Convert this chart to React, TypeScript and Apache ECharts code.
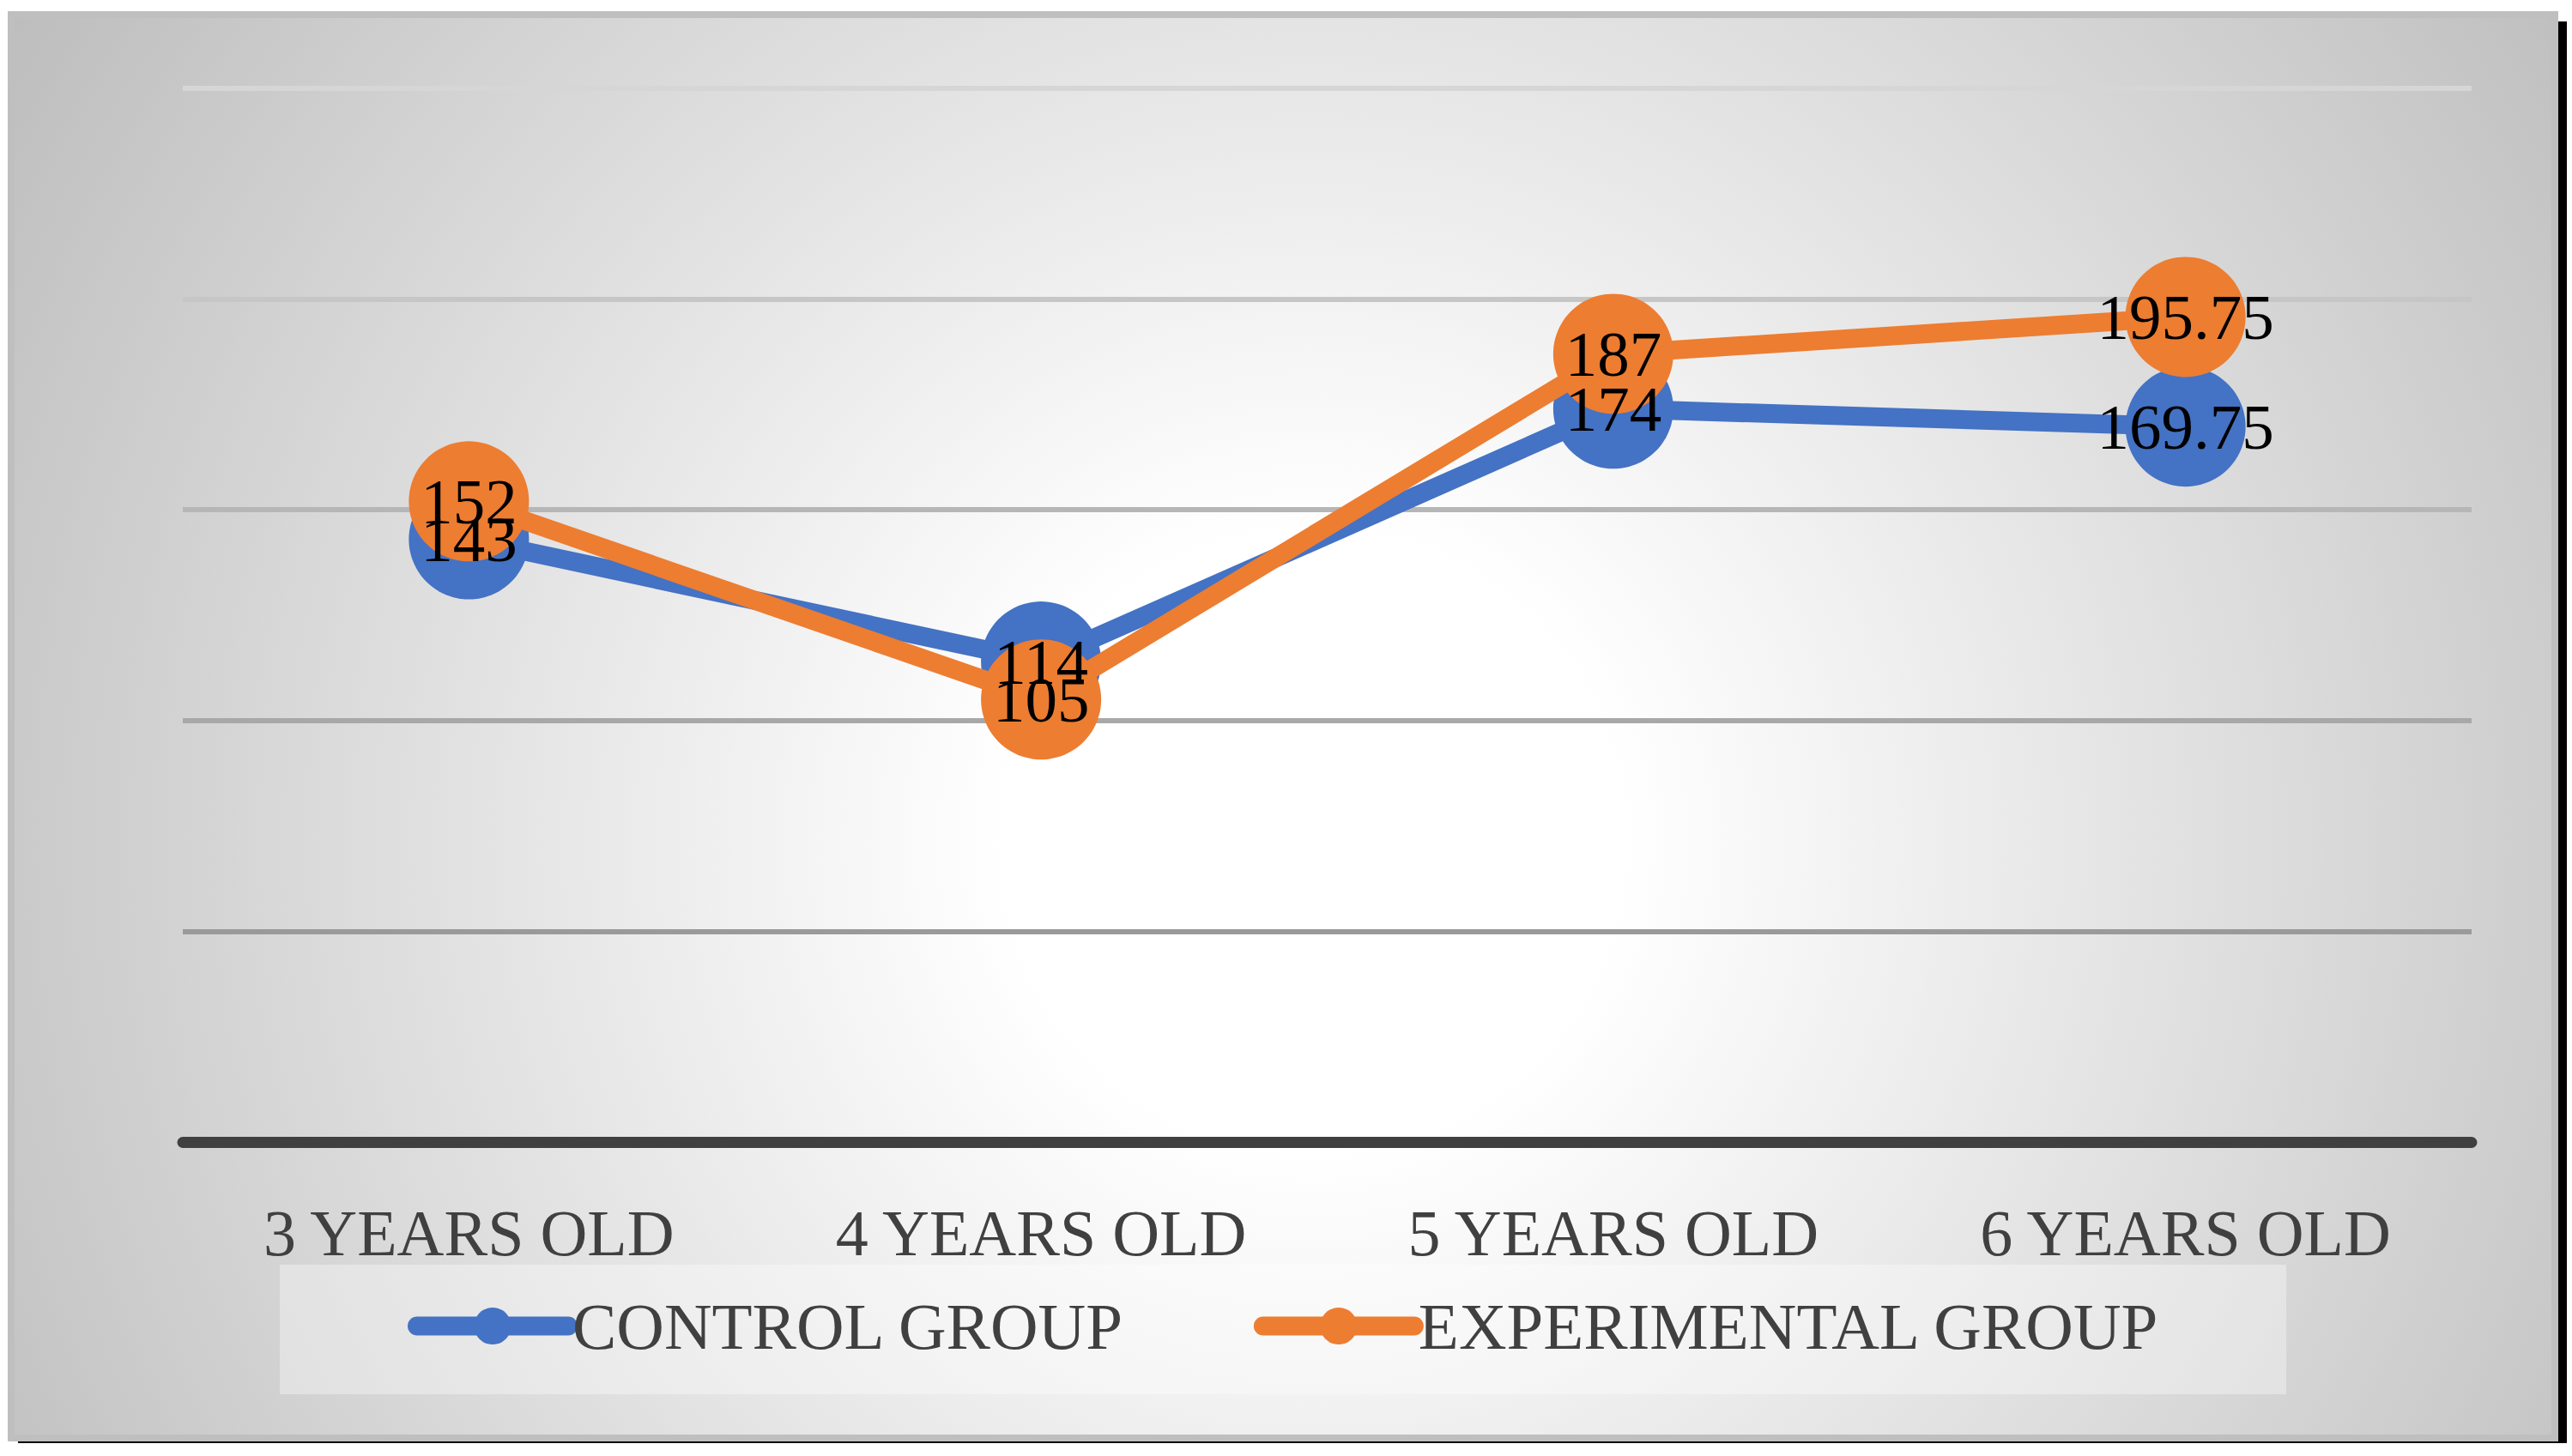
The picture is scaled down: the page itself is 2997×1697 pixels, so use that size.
import React, { useEffect, useRef } from "react";
import * as echarts from "echarts";

const categories = ["3 YEARS OLD", "4 YEARS OLD", "5 YEARS OLD", "6 YEARS OLD"];
const controlGroup = [143, 114, 174, 169.75];
const experimentalGroup = [152, 105, 187, 195.75];
const seriesNames = ["CONTROL GROUP", "EXPERIMENTAL GROUP"];

const W = 2997;
const H = 1697;
const SERIF = "'Liberation Serif', 'DejaVu Serif', serif";

export default function App() {
  const ref = useRef<HTMLDivElement>(null);
  useEffect(() => {
    if (!ref.current) return;
    const chart = echarts.init(ref.current, undefined, { renderer: "svg" });
    const labelCfg = {
      show: true,
      position: "inside",
      color: "#000000",
      fontFamily: SERIF,
      fontSize: 75,
      opacity: 1,
    };
    const labelSeries = (name: string, data: number[]) => ({
      name,
      type: "line",
      data,
      symbol: "circle",
      symbolSize: 2,
      lineStyle: { color: "transparent", width: 0 },
      itemStyle: { color: "transparent" },
      label: labelCfg,
      silent: true,
      z: 10,
    });
    chart.setOption({
      animation: false,
      graphic: [
        {
          type: "rect",
          z: -10,
          shape: { x: 21, y: 25, width: 2970, height: 1657 },
          style: { fill: "#000000" },
          silent: true,
        },
        {
          type: "rect",
          z: -9,
          shape: { x: 13, y: 17, width: 2964, height: 1659 },
          style: {
            fill: {
              type: "radial",
              x: 1530,
              y: 980,
              r: 1800,
              global: true,
              colorStops: [
                { offset: 0, color: "#ffffff" },
                { offset: 0.2, color: "#ffffff" },
                { offset: 1, color: "#bdbdbd" },
              ],
            },
            stroke: "#bfbfbf",
            lineWidth: 8,
          },
          silent: true,
        },
        {
          type: "rect",
          z: -8,
          shape: { x: 326, y: 1474, width: 2338, height: 151 },
          style: { fill: "rgba(255,255,255,0.35)" },
          silent: true,
        },
      ],
      grid: { left: 213, right: 117, top: 103, bottom: 366, containLabel: false },
      legend: {
        data: seriesNames,
        left: 470,
        top: 1502,
        itemWidth: 176,
        itemHeight: 54,
        itemGap: 150,
        z: 10,
        textStyle: { color: "#404040", fontFamily: SERIF, fontSize: 77, padding: [0, 0, 0, 0] },
        lineStyle: { width: 22, cap: "round" },
      },
      xAxis: {
        type: "category",
        data: categories,
        boundaryGap: true,
        axisLine: { show: true, lineStyle: { color: "#404040", width: 13 } },
        axisTick: { show: false },
        axisLabel: { color: "#404040", fontFamily: SERIF, fontSize: 76, margin: 68 },
        splitLine: { show: false },
      },
      yAxis: {
        type: "value",
        min: 0,
        max: 250,
        interval: 50,
        axisLabel: { show: false },
        axisLine: { show: false },
        axisTick: { show: false },
        splitLine: {
          show: true,
          lineStyle: {
            width: 6,
            color: ["#8c8c8c", "#9a9a9a", "#a8a8a8", "#b6b6b6", "#c6c6c6", "#d6d6d6"],
          },
        },
      },
      series: [
        {
          name: seriesNames[0],
          type: "line",
          data: controlGroup,
          symbol: "circle",
          symbolSize: 140,
          lineStyle: { color: "#4472C4", width: 22 },
          itemStyle: { color: "#4472C4" },
          label: { show: false },
          z: 3,
        },
        {
          name: seriesNames[1],
          type: "line",
          data: experimentalGroup,
          symbol: "circle",
          symbolSize: 140,
          lineStyle: { color: "#ED7D31", width: 22 },
          itemStyle: { color: "#ED7D31" },
          label: { show: false },
          z: 4,
        },
        labelSeries("control-labels", controlGroup),
        labelSeries("experimental-labels", experimentalGroup),
      ],
    });
    return () => chart.dispose();
  }, []);
  return (
    <div
      ref={ref}
      style={{ position: "absolute", left: 0, top: 0, width: W, height: H }}
    />
  );
}
